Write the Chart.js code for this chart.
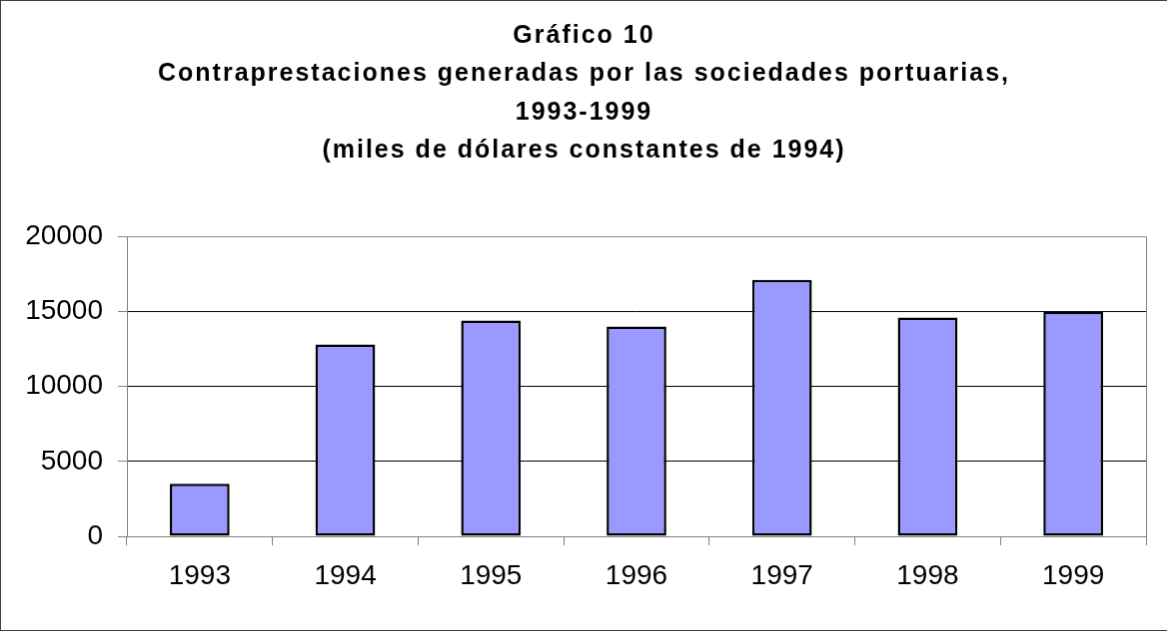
<!DOCTYPE html>
<html>
<head>
<meta charset="utf-8">
<script src="https://cdn.jsdelivr.net/npm/chart.js@4/dist/chart.umd.min.js"></script>
<style>
  html, body { margin: 0; padding: 0; background: #fff; }
  #productChart {
    display: block;
    border-left: 1px solid #404040;
    border-top: 1px solid #404040;
    border-bottom: 1px solid #404040;
  }
</style>
</head>
<body>
<canvas id="productChart" width="1167" height="631"></canvas>
<script>
const years = ['1993', '1994', '1995', '1996', '1997', '1998', '1999'];
const contraprestaciones = [3500, 12800, 14400, 14000, 17100, 14600, 15000];
const titleLines = [
  'Gráfico 10',
  'Contraprestaciones generadas por las sociedades portuarias,',
  '1993-1999',
  '(miles de dólares constantes de 1994)'
];
const yMax = 20000;
const yStep = 5000;

// Excel-style wide letter spacing for the title only
const titleSpacing = {
  id: 'titleSpacing',
  beforeDraw(chart) {
    chart.ctx.letterSpacing = '2px';
  },
  beforeDatasetsDraw(chart) {
    chart.ctx.letterSpacing = '0px';
  }
};

const ctx = document.getElementById('productChart');

new Chart(ctx, {
  type: 'bar',
  data: {
    labels: years,
    datasets: [{
      label: 'Contraprestaciones',
      data: contraprestaciones,
      backgroundColor: '#9999FF',
      borderColor: '#000000',
      borderWidth: 2.5,
      borderSkipped: false,
      barPercentage: 0.41,
      categoryPercentage: 1
    }]
  },
  options: {
    responsive: false,
    animation: false,
    layout: { padding: 0 },
    scales: {
      x: {
        offset: true,
        grid: {
          offset: true,
          drawOnChartArea: true,
          color: c => (c.index === undefined ? '#808080' : 'transparent'),
          tickColor: '#808080',
          tickLength: 9
        },
        border: { display: true, color: '#808080', width: 1 },
        ticks: {
          color: '#000',
          padding: 14,
          z: 1,
          font: { family: 'Arial, "Liberation Sans"', size: 28 }
        },
        afterFit(scale) { scale.height = 94; }
      },
      y: {
        min: 0,
        max: yMax,
        ticks: {
          stepSize: yStep,
          color: '#000',
          padding: 15,
          z: 1,
          font: { family: 'Arial, "Liberation Sans"', size: 28 },
          callback: v => String(v)
        },
        grid: {
          color: c => (c.tick && (c.tick.value === yMax || c.tick.value === 0) ? '#808080' : '#000000'),
          tickColor: '#808080',
          tickLength: 9,
          lineWidth: 1
        },
        border: { display: true, color: '#808080', width: 1 },
        afterFit(scale) { scale.width = 126; }
      },
      // empty right margin so the title stays centred on the whole canvas
      yRight: {
        position: 'right',
        display: true,
        min: 0,
        max: yMax,
        grid: { display: false },
        border: { display: false },
        ticks: { display: false },
        afterFit(scale) { scale.width = 21; }
      }
    },
    plugins: {
      legend: { display: false },
      tooltip: { enabled: false },
      title: {
        display: true,
        text: titleLines,
        color: '#000',
        font: { family: 'Arial, "Liberation Sans"', size: 25, weight: 'bold', lineHeight: 38.3 / 25 },
        padding: { top: 16, bottom: 67 }
      }
    }
  },
  plugins: [titleSpacing]
});
</script>
</body>
</html>
